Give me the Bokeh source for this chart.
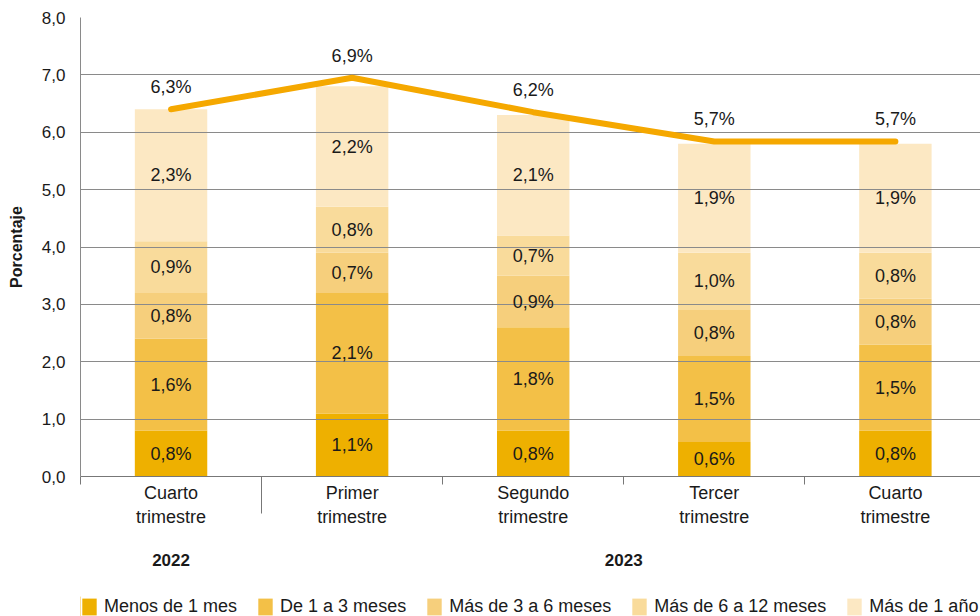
from bokeh.plotting import figure
from bokeh.layouts import column
from bokeh.models import (ColumnDataSource, FixedTicker, LinearAxis, Legend, LegendItem,
                          Range1d)
from bokeh.core.properties import value
from bokeh.embed import file_html
from bokeh.resources import INLINE

# ---- data ----
categories = ["Cuarto\ntrimestre", "Primer\ntrimestre", "Segundo\ntrimestre",
              "Tercer\ntrimestre", "Cuarto\ntrimestre"]
years = ["2022", "2023"]
series_names = ["Menos de 1 mes", "De 1 a 3 meses", "Más de 3 a 6 meses",
                "Más de 6 a 12 meses", "Más de 1 año"]
menos_1_mes = [0.8, 1.1, 0.8, 0.6, 0.8]
de_1_a_3 = [1.6, 2.1, 1.8, 1.5, 1.5]
de_3_a_6 = [0.8, 0.7, 0.9, 0.8, 0.8]
de_6_a_12 = [0.9, 0.8, 0.7, 1.0, 0.8]
mas_1_ano = [2.3, 2.1, 2.1, 1.9, 1.9]
seg_labels = [
    ["0,8%", "1,1%", "0,8%", "0,6%", "0,8%"],
    ["1,6%", "2,1%", "1,8%", "1,5%", "1,5%"],
    ["0,8%", "0,7%", "0,9%", "0,8%", "0,8%"],
    ["0,9%", "0,8%", "0,7%", "1,0%", "0,8%"],
    ["2,3%", "2,2%", "2,1%", "1,9%", "1,9%"],
]
total_rate = [6.4, 6.95, 6.35, 5.84, 5.84]
total_labels = ["6,3%", "6,9%", "6,2%", "5,7%", "5,7%"]
y_ticks = [0, 1, 2, 3, 4, 5, 6, 7, 8]

colors = ["#EEB000", "#F3C047", "#F6CF7C", "#F9DB9B", "#FCE8C3"]
FONT = "Liberation Sans"
TXT = "#1a1a1a"
AX = "#777777"

xs = [1, 2, 3, 4, 5]
keys = ["s0", "s1", "s2", "s3", "s4"]
series = [menos_1_mes, de_1_a_3, de_3_a_6, de_6_a_12, mas_1_ano]
data = {"x": xs}
for k, s in zip(keys, series):
    data[k] = s
src = ColumnDataSource(data)

p = figure(width=980, height=596, output_backend="svg", toolbar_location=None,
           x_range=Range1d(0.5, 5.47), y_range=Range1d(0, 8),
           x_axis_location=None,
           min_border_left=80, min_border_right=0, min_border_top=17,
           min_border_bottom=120)
p.outline_line_color = None
p.background_fill_color = "white"

rends = p.vbar_stack(keys, x="x", width=0.4, source=src, color=colors,
                     line_color=None, level="image")

# segment labels
lx, ly, lt = [], [], []
for i in range(5):
    base = 0.0
    for j, s in enumerate(series):
        lx.append(xs[i])
        ly.append(base + s[i] / 2)
        lt.append(seg_labels[j][i])
        base += s[i]
p.text(x=lx, y=ly, text=lt, text_align="center", text_baseline="middle",
       text_font=value(FONT), text_font_size="18px", text_color=TXT)

# total line
p.line(xs, total_rate, line_color="#F5A800", line_width=6, line_cap="round",
       line_join="round")
p.text(x=xs, y=total_rate, text=total_labels, text_align="center",
       text_baseline="middle", y_offset=-22, text_font=value(FONT),
       text_font_size="18px", text_color=TXT)

# y axis
p.yaxis.ticker = FixedTicker(ticks=y_ticks)
p.yaxis.major_label_overrides = {t: f"{t},0" for t in y_ticks}
p.yaxis.axis_label = "Porcentaje"
p.yaxis.axis_label_text_font = FONT
p.yaxis.axis_label_text_font_style = "bold"
p.yaxis.axis_label_text_font_size = "16px"
p.yaxis.axis_label_text_color = TXT
p.yaxis.axis_label_standoff = 14
p.yaxis.major_label_text_font = FONT
p.yaxis.major_label_text_font_size = "17px"
p.yaxis.major_label_text_color = TXT
p.yaxis.major_label_standoff = 9
p.yaxis.major_tick_line_color = None
p.yaxis.minor_tick_line_color = None
p.yaxis.axis_line_color = "#8a8a8a"

p.ygrid.ticker = FixedTicker(ticks=y_ticks)
p.ygrid.grid_line_color = "#8a8a8a"
p.ygrid.grid_line_width = 1
p.xgrid.grid_line_color = None

# divider axis: bottom line, year divider (long) and category separators (short)
da = LinearAxis(ticker=FixedTicker(ticks=[1.5], minor_ticks=[0.5, 2.5, 3.5, 4.5]),
                major_label_overrides={1.5: ""})
da.axis_line_color = AX
da.major_tick_line_color = AX
da.major_tick_out = 37
da.major_tick_in = 0
da.minor_tick_line_color = AX
da.minor_tick_out = 8
da.minor_tick_in = 0
da.major_label_text_font_size = "1px"
da.major_label_standoff = 0
p.add_layout(da, "below")

# category axis
xa = LinearAxis(ticker=FixedTicker(ticks=xs),
                major_label_overrides={x: c for x, c in zip(xs, categories)})
xa.axis_line_color = None
xa.major_tick_line_color = None
xa.minor_tick_line_color = None
xa.major_label_text_font = FONT
xa.major_label_text_font_size = "18px"
xa.major_label_text_color = TXT
xa.major_label_standoff = -37
p.add_layout(xa, "below")

# year axis
ya = LinearAxis(ticker=FixedTicker(ticks=[1, 3.5]),
                major_label_overrides={1: years[0], 3.5: years[1]})
ya.axis_line_color = None
ya.major_tick_line_color = None
ya.minor_tick_line_color = None
ya.major_label_text_font = FONT
ya.major_label_text_font_style = "bold"
ya.major_label_text_font_size = "17px"
ya.major_label_text_color = TXT
ya.major_label_standoff = 18
p.add_layout(ya, "below")

# legend strip (proxy glyphs sit outside the visible range)
lf = figure(width=980, height=20, output_backend="svg", toolbar_location=None,
            x_axis_location=None, y_axis_location=None,
            x_range=Range1d(0, 1), y_range=Range1d(0, 1),
            min_border_left=79, min_border_right=0, min_border_top=0,
            min_border_bottom=0)
lf.outline_line_color = None
lf.xgrid.grid_line_color = None
lf.ygrid.grid_line_color = None
lrends = [lf.vbar(x=[-5], top=[1], width=0.1, color=c, line_color=None) for c in colors]
legend = Legend(items=[LegendItem(label=n, renderers=[r]) for n, r in zip(series_names, lrends)],
                orientation="horizontal", location="top_left",
                glyph_width=18, glyph_height=21, label_standoff=6, spacing=19,
                padding=0, margin=0, border_line_color=None,
                background_fill_alpha=0,
                label_text_font=FONT, label_text_font_size="18px",
                label_text_color=TXT, label_height=21)
lf.add_layout(legend, "center")

layout = column(p, lf, spacing=0)
open("out.html", "w").write(file_html(layout, INLINE))
